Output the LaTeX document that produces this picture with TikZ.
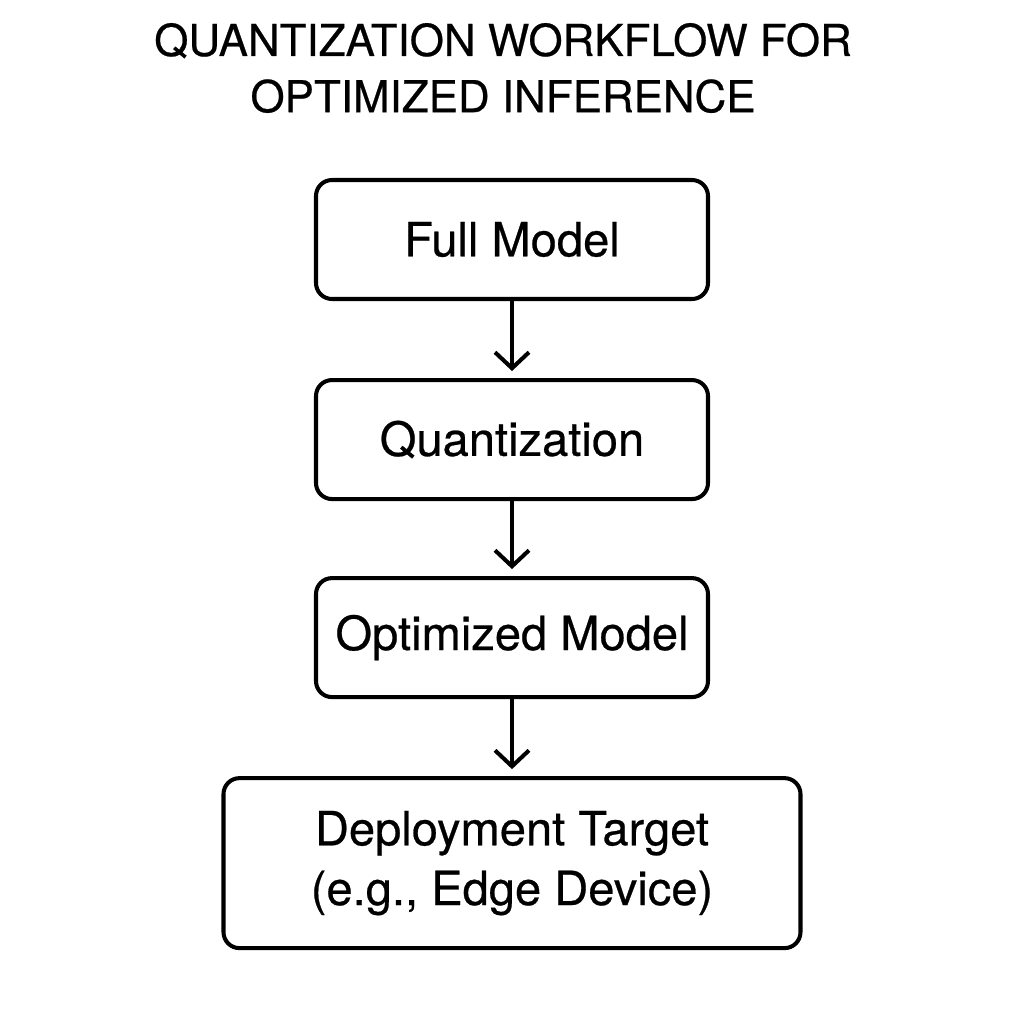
\documentclass[tikz,border=0pt]{standalone}
\usepackage{fontspec}
\setmainfont{TeX Gyre Heros}[FakeBold=0.5]
\usetikzlibrary{positioning,arrows.meta}

\begin{document}
\begin{tikzpicture}[
  stepbox/.style={draw,line width=2.3pt,rounded corners=0.32cm,minimum width=7.84cm,minimum height=2.38cm,align=center,font=\fontsize{26.8}{34}\selectfont},
  flow/.style={line width=2.3pt,-{Straight Barb[length=0.32cm,width=0.68cm]},shorten >=0.14cm}
]
\useasboundingbox (0,0) rectangle (20.48,-20.48);

\node[align=center,font=\fontsize{25}{32}\selectfont] (title) at (10.06,-1.36) {QUANTIZATION WORKFLOW FOR\\OPTIMIZED INFERENCE};

\node[stepbox] (full) at (10.24,-4.79) {Full Model};
\node[stepbox,below=1.54cm of full] (quant) {Quantization};
\node[stepbox,below=1.5cm of quant] (opt) {Optimized Model};
\node[stepbox,below=1.54cm of opt,minimum width=11.54cm,minimum height=3.4cm] (target) {Deployment Target\\(e.g., Edge Device)};

\draw[flow] (full) -- (quant);
\draw[flow] (quant) -- (opt);
\draw[flow] (opt) -- (target);

\end{tikzpicture}
\end{document}
